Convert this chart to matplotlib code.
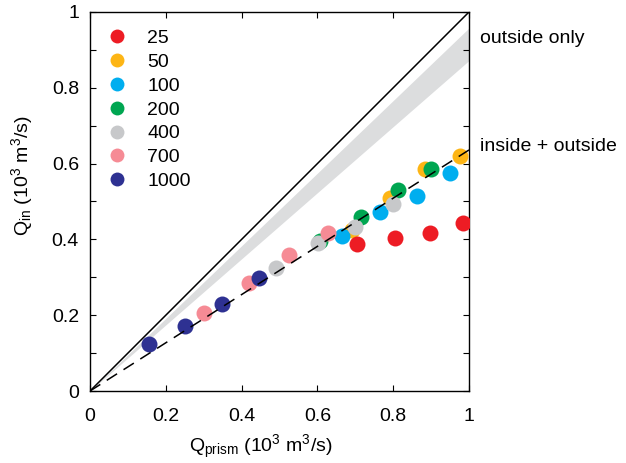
import matplotlib
matplotlib.use("Agg")
import matplotlib.pyplot as plt
import numpy as np

plt.rcParams['font.family'] = ['Liberation Sans', 'DejaVu Sans']
plt.rcParams['mathtext.fontset'] = 'custom'
plt.rcParams['mathtext.rm'] = 'Liberation Sans'
plt.rcParams['mathtext.it'] = 'Liberation Sans:italic'

labels = ['25', '50', '100', '200', '400', '700', '1000']
colors = ['#ED1C24', '#FDB515', '#00AEEF', '#00A651', '#C7C8CA', '#F68B95', '#2E3192']

q_prism = {
    '25':   [0.704, 0.806, 0.897, 0.985],
    '50':   [0.691, 0.792, 0.883, 0.975],
    '100':  [0.665, 0.766, 0.862, 0.950],
    '200':  [0.607, 0.714, 0.812, 0.901],
    '400':  [0.490, 0.602, 0.698, 0.799],
    '700':  [0.300, 0.419, 0.525, 0.628],
    '1000': [0.156, 0.250, 0.349, 0.445],
}
q_in = {
    '25':   [0.388, 0.405, 0.416, 0.442],
    '50':   [0.425, 0.508, 0.587, 0.620],
    '100':  [0.409, 0.471, 0.514, 0.576],
    '200':  [0.396, 0.458, 0.530, 0.587],
    '400':  [0.325, 0.390, 0.434, 0.493],
    '700':  [0.205, 0.286, 0.358, 0.416],
    '1000': [0.124, 0.171, 0.230, 0.299],
}
draw_order = ['50', '200', '100', '400', '700', '25', '1000']

fit_slope = 0.636          # inside + outside (dashed)
band_x = [0.0, 1.0]        # outside only band
band_upper = [0.0, 0.958]
band_lower = [0.0, 0.872]

fig = plt.figure(figsize=(6.26, 4.63), dpi=100)
ax = fig.add_axes([90/626, 1-391/463, 379/626, 379/463])

xx = np.array([0.0, 1.0])
ax.fill_between(band_x, band_lower, band_upper, color='#DCDDDE', lw=0, zorder=1)
ax.plot(xx, xx, color='black', lw=1.1, zorder=2)

handles = {}
for i, lab in enumerate(draw_order):
    c = colors[labels.index(lab)]
    h, = ax.plot(q_prism[lab], q_in[lab], 'o', ms=11.5, color=c, mec='none', zorder=3+i, label=lab)
    handles[lab] = h

ax.plot(xx, fit_slope*xx, color='black', lw=1.1, dashes=(8, 5), zorder=20)

ax.set_xlim(0, 1)
ax.set_ylim(0, 1)
ax.set_xticks([0, 0.2, 0.4, 0.6, 0.8, 1.0])
ax.set_xticklabels(['0', '0.2', '0.4', '0.6', '0.8', '1'])
ax.set_yticks(np.arange(0, 1.01, 0.1))
ax.set_yticklabels(['0', '', '0.2', '', '0.4', '', '0.6', '', '0.8', '', '1'])
ax.tick_params(direction='in', length=4, width=0.8, top=True, right=True, labelsize=14)
ax.tick_params(axis='x', pad=12)
ax.tick_params(axis='y', pad=8)
for s in ax.spines.values():
    s.set_linewidth(1.0)

leg = ax.legend([handles[l] for l in labels], labels, loc='upper left', frameon=False,
                fontsize=14, numpoints=1, handlelength=1.0, handletextpad=1.04,
                borderaxespad=0.5, borderpad=0.4, labelspacing=0.32, markerscale=0.87)

ax.text(1.03, 0.93, 'outside only', transform=ax.transAxes, fontsize=14, va='center', ha='left')
ax.text(1.03, 0.645, 'inside + outside', transform=ax.transAxes, fontsize=14, va='center', ha='left')

fig.text(261/626, 1-447/463, r'Q$_{\mathrm{prism}}$ (10$^3$ m$^3$/s)', fontsize=14, ha='center', va='center')
fig.text(22/626, 1-176/463, r'Q$_{\mathrm{in}}$ (10$^3$ m$^3$/s)', fontsize=14, ha='center', va='center', rotation=90)

fig.savefig('out.png', dpi=100)
